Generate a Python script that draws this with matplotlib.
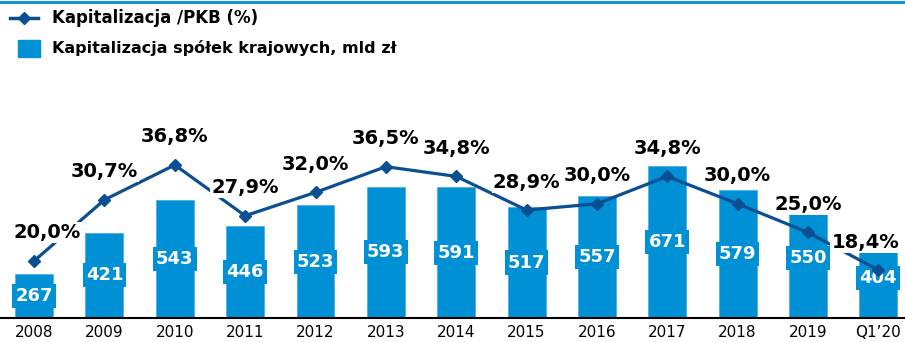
import matplotlib.pyplot as plt
from matplotlib.lines import Line2D
from matplotlib.patches import Rectangle

years = ['2008', '2009', '2010', '2011', '2012', '2013', '2014',
         '2015', '2016', '2017', '2018', '2019', 'Q1\u201920']
cap_pln = [267, 421, 543, 446, 523, 593, 591, 517, 557, 671, 579, 550, 404]
cap_gdp = [20.0, 30.7, 36.8, 27.9, 32.0, 36.5, 34.8, 28.9, 30.0, 34.8, 30.0, 25.0, 18.4]

bar_col = '#0090D5'
line_col = '#0B4F93'
plt.rcParams['font.family'] = 'DejaVu Sans'

fig = plt.figure(figsize=(9.05, 3.42), dpi=100)
ax = fig.add_axes([0.0, 24 / 342, 1.0, 238 / 342])
x = list(range(len(years)))

ax.bar(x, cap_pln, width=0.54, color=bar_col, edgecolor='#4FB0E3', linewidth=0.6, zorder=1)
ax.set_ylim(102, 102 + 238 * 3.74)
ax.set_xlim(-0.485, 12.38)
for xi, v in zip(x, cap_pln):
    ax.text(xi, (102 + v) / 2, str(v), ha='center', va='center', fontsize=13,
            fontweight='bold', color='white', zorder=3,
            bbox=dict(boxstyle='square,pad=0.17', fc=bar_col, ec='none'))

ax.set_xticks(x)
ax.set_xticklabels(years, fontsize=11)
ax.tick_params(axis='x', length=0, pad=5)
ax.set_yticks([])
for s in ['top', 'left', 'right']:
    ax.spines[s].set_visible(False)
ax.spines['bottom'].set_linewidth(1.5)
ax.spines['bottom'].set_zorder(5)

ax2 = ax.twinx()
ax2.set_ylim(10.0, 10.0 + 238 / 5.71)
ax2.set_yticks([])
for s in ax2.spines.values():
    s.set_visible(False)
ax2.plot(x, cap_gdp, color=line_col, lw=2.3, marker='D', markersize=6, zorder=2)

# percentage labels above the line, white box cuts the line where needed
shift = {0: 13, 12: -13}
for xi, v in zip(x, cap_gdp):
    lbl = f'{v:.1f}%'.replace('.', ',')
    ax2.annotate(lbl, (xi, v), xytext=(shift.get(xi, 0) / 1.389, 28 / 1.389),
                 textcoords='offset points', ha='center', va='center',
                 fontsize=14, fontweight='bold', color='black', zorder=4,
                 bbox=dict(boxstyle='square,pad=0.05', fc='white', ec='none'))

# legend and top rule
fig.add_artist(Line2D([0, 1], [1 - 2 / 342, 1 - 2 / 342], color=bar_col, lw=2))
fig.add_artist(Line2D([10 / 905, 38 / 905], [1 - 18 / 342, 1 - 18 / 342],
                      color=line_col, lw=2.5))
fig.add_artist(Line2D([24 / 905], [1 - 18 / 342], color=line_col, marker='D',
                      markersize=6))
fig.text(52 / 905, 1 - 18 / 342, 'Kapitalizacja /PKB (%)', fontsize=12,
         fontweight='bold', va='center')
fig.add_artist(Rectangle((18 / 905, 1 - 57 / 342), 22 / 905, 17 / 342,
                         transform=fig.transFigure, color=bar_col))
fig.text(52 / 905, 1 - 48 / 342, 'Kapitalizacja spółek krajowych, mld zł',
         fontsize=11.5, fontweight='bold', va='center')

fig.savefig('out.png', dpi=100)
